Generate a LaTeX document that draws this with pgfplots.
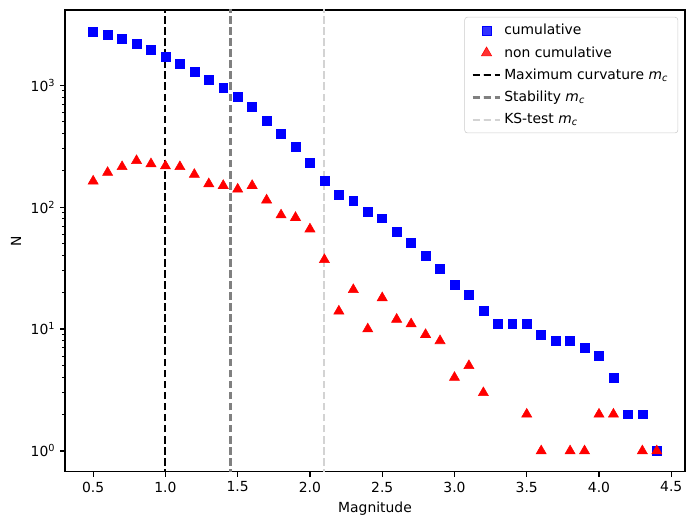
\documentclass[border=0pt]{standalone}
\usepackage{fontspec}
\setmainfont{DejaVu Sans}
\usepackage{pgfplots}
\pgfplotsset{compat=1.18}
\definecolor{mcgray}{gray}{0.5}
\definecolor{mclight}{gray}{0.827}
\newcommand{\mc}{\textit{m}\textsubscript{\textit{c}}}
\begin{document}
\begin{tikzpicture}
\begin{axis}[
  scale only axis, width=446.4pt, height=332.6pt,
  ymode=log,
  xmin=0.305, xmax=4.595,
  ymin=0.673, ymax=4130,
  axis line style={line width=0.8pt},
  tick align=outside, tick pos=left,
  major tick length=3.5pt, minor tick length=2pt,
  every tick/.style={black, line width=0.8pt},
  minor tick style={line width=0.6pt},
  xtick={0.5,1.0,1.5,2.0,2.5,3.0,3.5,4.0,4.5},
  xticklabel style={/pgf/number format/.cd, fixed, fixed zerofill, precision=1, assume math mode=true},
  ytick={1,10,100,1000},
  yticklabels={10\textsuperscript{0},10\textsuperscript{1},10\textsuperscript{2},10\textsuperscript{3}},
  tick label style={font=\fontsize{10}{12}\selectfont},
  label style={font=\fontsize{10}{12}\selectfont},
  xlabel={Magnitude}, ylabel={N},
  legend cell align=left,
  legend image code/.code={\draw[mark repeat=2,mark phase=2,#1] plot coordinates {(0pt,0pt) (10pt,0pt) (20pt,0pt)};},
  legend style={at={(0.989,0.985)}, anchor=north east, draw=black!20, rounded corners=2pt,
    fill=white, fill opacity=0.8, text opacity=1, font=\fontsize{10}{12}\selectfont,
    row sep=3pt, inner xsep=5pt, inner ysep=3pt},
]
\addplot[only marks, mark=square*, mark size=3.2pt, color=blue] coordinates {
(0.5,2757) (0.6,2594) (0.7,2402) (0.8,2188) (0.9,1948) (1.0,1722) (1.1,1505)
(1.2,1291) (1.3,1106) (1.4,951) (1.5,801) (1.6,661) (1.7,511) (1.8,397)
(1.9,311) (2.0,229) (2.1,163) (2.2,126) (2.3,112) (2.4,91) (2.5,81)
(2.6,63) (2.7,51) (2.8,40) (2.9,31) (3.0,23) (3.1,19) (3.2,14) (3.3,11)
(3.4,11) (3.5,11) (3.6,9) (3.7,8) (3.8,8) (3.9,7) (4.0,6) (4.1,4)
(4.2,2) (4.3,2) (4.4,1)
};
\addlegendentry{cumulative}
\addplot[only marks, mark=triangle*, mark size=4.2pt, color=red] coordinates {
(0.5,163) (0.6,192) (0.7,214) (0.8,240) (0.9,226) (1.0,217) (1.1,214)
(1.2,185) (1.3,155) (1.4,150) (1.5,140) (1.6,150) (1.7,114) (1.8,86)
(1.9,82) (2.0,66) (2.1,37) (2.2,14) (2.3,21) (2.4,10) (2.5,18) (2.6,12)
(2.7,11) (2.8,9) (2.9,8) (3.0,4) (3.1,5) (3.2,3) (3.5,2) (3.6,1)
(3.8,1) (3.9,1) (4.0,2) (4.1,2) (4.3,1) (4.4,1)
};
\addlegendentry{non cumulative}
\addplot[black, line width=1.5pt, dash pattern=on 5.55pt off 2.4pt] coordinates {(1.0,0.5) (1.0,5000)};
\addlegendentry{Maximum curvature \mc}
\addplot[mcgray, line width=1.5pt, dash pattern=on 5.55pt off 2.4pt] coordinates {(1.45,0.5) (1.45,5000)};
\addlegendentry{Stability \mc}
\addplot[mclight, line width=1.5pt, dash pattern=on 5.55pt off 2.4pt] coordinates {(2.1,0.5) (2.1,5000)};
\addlegendentry{KS-test \mc}
\coordinate (sw) at (rel axis cs:0,0);
\coordinate (ne) at (rel axis cs:1,1);
\end{axis}
\pgfresetboundingbox
\path[use as bounding box] ([xshift=-46.8pt,yshift=-38.2pt]sw) rectangle ([xshift=6.5pt,yshift=7.2pt]ne);
\end{tikzpicture}
\end{document}
